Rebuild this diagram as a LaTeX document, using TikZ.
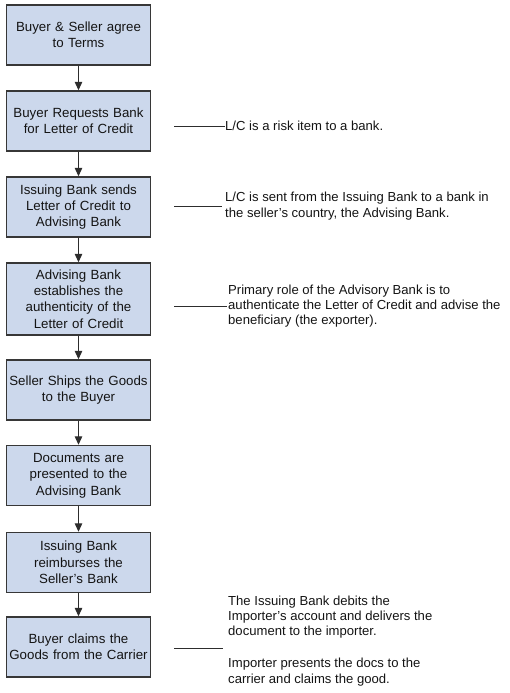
\documentclass[tikz,border=0pt]{standalone}
\usepackage{fontspec}
\setmainfont{Liberation Sans}
\usetikzlibrary{arrows.meta}
\definecolor{boxfill}{RGB}{204,216,236}
\definecolor{boxline}{RGB}{55,55,55}
\definecolor{arrowcol}{RGB}{45,45,45}
\definecolor{txt}{RGB}{20,20,20}
\tikzset{
  stepbox/.style={draw=boxline, fill=boxfill, line width=1.4pt, rectangle,
    minimum width=144pt, minimum height=60pt, text width=140pt, inner sep=0pt,
    align=center, text=txt, font=\fontsize{13.3}{16.3}\selectfont},
  tallbox/.style={stepbox, minimum height=72pt},
  flow/.style={draw=arrowcol, line width=1.2pt, -{Triangle[width=7.5pt,length=8.5pt]}},
  note/.style={anchor=west, align=left, inner sep=0pt, text=txt,
    font=\fontsize{13.1}{15.3}\selectfont},
  noteline/.style={draw=arrowcol, line width=1pt}
}
\begin{document}
\begin{tikzpicture}[x=1pt, y=-1pt]
\useasboundingbox (0,0) rectangle (509,693);
\node[stepbox] (b1) at (78.5,35) {Buyer \& Seller agree\\to Terms};
\node[stepbox] (b2) at (78.5,121) {Buyer Requests Bank\\for Letter of Credit};
\node[stepbox] (b3) at (78.5,207) {Issuing Bank sends\\Letter of Credit to\\Advising Bank};
\node[tallbox] (b4) at (78.5,299) {Advising Bank\\establishes the\\authenticity of the\\Letter of Credit};
\node[stepbox] (b5) at (78.5,390) {Seller Ships the Goods\\to the Buyer};
\node[stepbox] (b6) at (78.5,475.5) {Documents are\\presented to the\\Advising Bank};
\node[stepbox] (b7) at (78.5,562.5) {Issuing Bank\\reimburses the\\Seller's Bank};
\node[stepbox] (b8) at (78.5,647) {Buyer claims the\\Goods from the Carrier};
\foreach \a/\b in {b1/b2,b2/b3,b3/b4,b4/b5,b5/b6,b6/b7,b7/b8}
  \draw[flow] (\a.south) -- (\b.north);
% annotations
\node[note] (n1) at (225,126) {L/C is a risk item to a bank.};
\node[note] (n2) at (225,206) {L/C is sent from the Issuing Bank to a bank in\\the seller’s country, the Advising Bank.};
\node[note] (n3) at (228,306) {Primary role of the Advisory Bank is to\\authenticate the Letter of Credit and advise the\\beneficiary (the exporter).};
\node[note] (n4a) at (228,617) {The Issuing Bank debits the\\Importer's account and delivers the\\document to the importer.};
\node[note] (n4b) at (228,672) {Importer presents the docs to the\\carrier and claims the good.};
\coordinate (s1) at (174,126);
\coordinate (s2) at (174,206);
\coordinate (s3) at (174,306);
\coordinate (s4) at (174,648);
\coordinate (e4) at (223,648);
\draw[noteline] (s1) -- ([xshift=-0.5pt]n1.west);
\draw[noteline] (s2) -- ([xshift=-3pt]n2.west);
\draw[noteline] (s3) -- ([xshift=-1pt]n3.west);
\draw[noteline] (s4) -- (e4);
\end{tikzpicture}
\end{document}
